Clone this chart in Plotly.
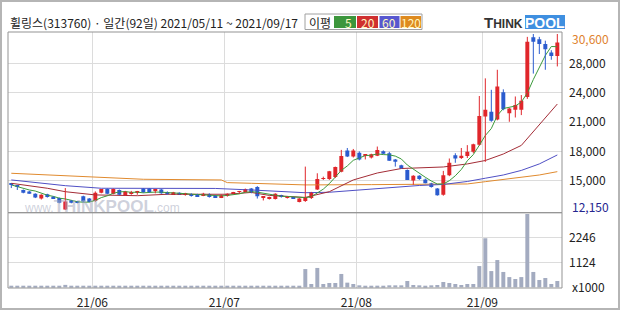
import plotly.graph_objects as go

# ---------------- data ----------------
header_title = "휠링스(313760) · 일간(92일) 2021/05/11 ~ 2021/09/17"
ma_label_title = "이평"
ma_labels = ["5", "20", "60", "120"]
month_labels = ["21/06", "21/07", "21/08", "21/09"]
month_start_idx = [14, 36, 58, 79]

opens = [14850, 14700, 14250, 14100, 13850, 13350, 13800, 13550, 13400, 12200,
         13150, 13050, 13600, 13350, 13100, 13950, 14350, 13850, 14250, 13700,
         13900, 13950, 14400, 14400, 14200, 14300, 14050, 13800, 13950, 13800,
         13800, 13750, 13650, 13800, 13650, 13500, 13650, 13850, 14050, 14050,
         14400, 14550, 13450, 13350, 13300, 13700, 13500, 13450, 13000, 13100,
         13400, 14300, 15400, 15400, 15600, 16150, 18400, 17750, 18150, 17850,
         17650, 17850, 18300, 18100, 17450, 16850, 16350, 15250, 15750, 15350,
         14950, 14400, 13750, 15800, 17900, 17700, 17800, 18250, 19000, 21950,
         22450, 21650, 24500, 22300, 22650, 22650, 24000, 30250, 30050, 29550,
         28650, 28300]
highs = [14900, 14750, 14300, 14150, 13900, 13800, 13850, 13600, 13450, 14450,
         13200, 13100, 13650, 13400, 14100, 14350, 14400, 14400, 14300, 14150,
         14150, 14150, 14450, 14450, 14350, 14350, 14100, 14050, 14000, 13950,
         13900, 13850, 13950, 13900, 13700, 13750, 13900, 14050, 14150, 14400,
         14450, 14650, 13600, 13550, 13900, 13750, 13600, 13500, 13400, 16700,
         14050, 16000, 15650, 16250, 16700, 18450, 18650, 18550, 18300, 18000,
         18050, 18800, 18400, 18250, 17500, 16900, 16400, 15800, 15800, 15450,
         15000, 14450, 16250, 17550, 18100, 18650, 18950, 19100, 24100, 25950,
         24750, 26850, 24800, 22850, 24050, 24200, 30300, 30600, 30300, 29900,
         28900, 30600]
lows = [14450, 14250, 13900, 13850, 13400, 13250, 13450, 13350, 12850, 12150,
        12850, 12850, 12950, 12950, 13000, 13900, 13800, 13800, 13700, 13650,
        13750, 13750, 13950, 13950, 13900, 13850, 13750, 13750, 13750, 13650,
        13550, 13550, 13600, 13450, 13450, 13400, 13550, 13800, 13850, 14000,
        13900, 13350, 13150, 13250, 13250, 13450, 13350, 13300, 12950, 13000,
        13300, 14250, 15300, 15300, 15500, 16100, 17700, 17650, 17350, 17450,
        17550, 17800, 18000, 17300, 16700, 16450, 15300, 14800, 15300, 14950,
        14500, 13650, 13650, 15700, 17100, 17500, 17600, 18100, 18900, 17200,
        21400, 21550, 22600, 21400, 21850, 22100, 23800, 26450, 28500, 26850,
        27900, 27200]
closes = [14800, 14650, 13950, 13850, 13450, 13750, 13500, 13350, 12900, 13050,
          12900, 12900, 13050, 13000, 13950, 14350, 13850, 14350, 13750, 14100,
          13950, 13950, 14000, 14050, 14200, 13900, 13800, 14000, 13800, 13800,
          13650, 13600, 13850, 13500, 13500, 13700, 13850, 14050, 14100, 14350,
          14000, 13600, 13450, 13500, 13850, 13550, 13500, 13350, 13350, 13450,
          14050, 15400, 15450, 16200, 16650, 17800, 17750, 18400, 17450, 17850,
          18000, 18450, 18050, 17300, 17200, 16500, 15300, 15750, 15400, 14950,
          14550, 13700, 15800, 17100, 17550, 17850, 18250, 19050, 22000, 22650,
          21500, 25100, 22700, 22800, 23150, 23600, 29800, 29800, 29550, 29000,
          28300, 29700]
# volume in thousands of shares
volumes = [50, 40, 45, 40, 50, 45, 40, 45, 60, 110,
           50, 45, 40, 40, 55, 45, 40, 40, 35, 40,
           35, 30, 40, 35, 35, 40, 35, 30, 35, 30,
           35, 40, 35, 30, 35, 30, 35, 30, 30, 35,
           40, 45, 35, 30, 35, 30, 30, 60, 60, 820,
           150, 870, 150, 195, 195, 600, 210, 150, 90, 50,
           50, 75, 60, 90, 90, 90, 285, 105, 90, 60,
           90, 105, 240, 195, 150, 105, 150, 150, 955, 2200,
           730, 1225, 690, 460, 375, 460, 3290, 690, 330, 420,
           150, 285]

ma5 = [14780, 14600, 14410, 14250, 14140, 13930, 13700, 13580, 13390, 13310,
       13140, 13020, 12960, 12980, 13160, 13450, 13640, 13900, 14050, 14080,
       14000, 14020, 13950, 14010, 14030, 14020, 13990, 13990, 13940, 13860,
       13810, 13770, 13740, 13680, 13620, 13630, 13680, 13720, 13840, 14010,
       14070, 14020, 13900, 13780, 13680, 13590, 13570, 13550, 13520, 13440,
       13540, 13920, 14340, 14910, 15550, 16300, 16770, 17360, 17610, 17850,
       17890, 18030, 17960, 17930, 17800, 17500, 16870, 16410, 16030, 15580,
       15190, 14870, 14880, 15220, 15740, 16400, 17310, 17960, 18940, 19960,
       20690, 22060, 22790, 22950, 23050, 23470, 24410, 25830, 27180, 28350,
       29290, 29270]
ma20_idx = [0, 3, 6, 9, 14, 21, 26, 36, 40, 43, 49, 53, 57, 61, 65, 72, 76, 79, 82, 85, 87, 89, 91]
ma20_val = [14950, 14700, 14430, 14070, 13730, 13650, 13800, 13800, 13990, 13680, 13470, 14070,
            15300, 16030, 16500, 16660, 16980, 17340, 18020, 18920, 20330, 21800, 23260]
ma60_idx = [0, 4, 9, 15, 23, 34, 40, 45, 49, 53, 60, 68, 72, 76, 79, 82, 85, 88, 91]
ma60_val = [15300, 15060, 14700, 14430, 14410, 14410, 14250, 14070, 13960, 14010, 14360, 14720,
            14830, 15140, 15480, 15820, 16300, 16980, 17920]
ma120_idx = [0, 9, 15, 22, 35, 36, 40, 49, 60, 70, 76, 79, 84, 88, 91]
ma120_val = [16000, 15720, 15580, 15370, 15300, 15020, 14950, 14780, 14810, 14830, 14880, 15120,
             15480, 15820, 16170]

price_tick_vals = [15225, 18300, 21375, 24450, 27525]
price_tick_text = ["15,000", "18,000", "21,000", "24,000", "28,000"]
price_max_label = "30,600"
price_min_label = "12,150"
price_max_val = 30600
price_min_val = 12150
vol_tick_vals = [1123, 2246]
vol_tick_text = ["1124", "2246"]
vol_unit_label = "x1000"

# ---------------- styling / layout helpers ----------------
W, H = 620, 310
ML, MR, MT, MB = 8, 58, 32, 22
PW, PH = W - ML - MR, H - MT - MB
SPLIT_Y = 212.7
P_PER_PX = 104.8          # price units per pixel in the price panel


def px(x):
    return (x - ML) / PW


def py(y):
    return (H - MB - y) / PH


UP = '#e0262b'
DOWN = '#2b5ccf'
MA_COLORS = ['#3c9a3c', '#a32c36', '#4f4fc4', '#e08a2e']
BOX_COLORS = ['#3c963c', '#cf3030', '#5757cf', '#de8a1e']
GRID = '#dcdcdc'
FONT = 'Noto Sans CJK KR, Noto Sans, sans-serif'

N = len(closes)
idx = list(range(N))
up = [c >= o for o, c in zip(opens, closes)]
body_colors = [UP if u else DOWN for u in up]
body_base = [min(o, c) for o, c in zip(opens, closes)]
body_h = [max(abs(c - o), 90) for o, c in zip(opens, closes)]

fig = go.Figure()

# moving averages (under the candles)
fig.add_trace(go.Scatter(x=ma120_idx, y=ma120_val, mode='lines',
                         line=dict(color=MA_COLORS[3], width=1), xaxis='x', yaxis='y'))
fig.add_trace(go.Scatter(x=ma60_idx, y=ma60_val, mode='lines',
                         line=dict(color=MA_COLORS[2], width=1), xaxis='x', yaxis='y'))
fig.add_trace(go.Scatter(x=ma20_idx, y=ma20_val, mode='lines',
                         line=dict(color=MA_COLORS[1], width=1), xaxis='x', yaxis='y'))
fig.add_trace(go.Scatter(x=idx, y=ma5, mode='lines',
                         line=dict(color=MA_COLORS[0], width=1), xaxis='x', yaxis='y'))

# wicks
for flag, col in [(True, UP), (False, DOWN)]:
    wx, wy = [], []
    for i in idx:
        if up[i] == flag:
            wx += [i, i, None]
            wy += [lows[i], highs[i], None]
    fig.add_trace(go.Scatter(x=wx, y=wy, mode='lines', line=dict(color=col, width=1),
                             xaxis='x', yaxis='y'))

# bodies
fig.add_trace(go.Bar(x=idx, y=body_h, base=body_base, width=0.66,
                     marker=dict(color=body_colors, line=dict(width=0)),
                     xaxis='x', yaxis='y'))
# volume
fig.add_trace(go.Bar(x=idx, y=volumes, width=0.66,
                     marker=dict(color='#a3abc0', line=dict(width=0)),
                     xaxis='x', yaxis='y2'))

split = py(SPLIT_Y)
price_range = [price_min_val - (SPLIT_Y - 210) * P_PER_PX,
               price_max_val + 2 * P_PER_PX]
fig.update_layout(
    width=W, height=H, margin=dict(l=ML, r=MR, t=MT, b=MB, autoexpand=False),
    paper_bgcolor='white', plot_bgcolor='white', showlegend=False,
    barmode='overlay',
    font=dict(family=FONT, size=12, color='#222'),
    xaxis=dict(range=[-0.55, 91.78], anchor='y2', automargin=False,
               tickvals=[m - 0.5 for m in month_start_idx], ticktext=month_labels,
               showgrid=True, gridcolor=GRID, gridwidth=1, zeroline=False,
               ticks='', showline=False, ticklabelstandoff=6,
               tickfont=dict(size=12, color='#222')),
    yaxis=dict(domain=[split, 1], range=price_range, automargin=False,
               side='right', tickvals=price_tick_vals, ticktext=price_tick_text,
               showgrid=True, gridcolor=GRID, zeroline=False, ticks='',
               ticklabelstandoff=6, tickfont=dict(size=12, color='#222')),
    yaxis2=dict(domain=[0, split], range=[-30, 3350], side='right', automargin=False,
                tickvals=vol_tick_vals, ticktext=vol_tick_text,
                showgrid=True, gridcolor=GRID, zeroline=False, ticks='',
                ticklabelstandoff=6, tickfont=dict(size=12, color='#222')),
)

shapes = []
# outer frame
shapes.append(dict(type='rect', xref='paper', yref='paper', x0=px(1), x1=px(619),
                   y0=py(309), y1=py(1), line=dict(color='#b5b5b5', width=2)))
# panel borders
shapes.append(dict(type='rect', xref='paper', yref='paper', x0=0, x1=1, y0=split, y1=1,
                   line=dict(color='#939393', width=1), layer='above'))
shapes.append(dict(type='rect', xref='paper', yref='paper', x0=0, x1=1, y0=0, y1=split,
                   line=dict(color='#939393', width=1), layer='above'))
# MA legend box
shapes.append(dict(type='rect', xref='paper', yref='paper', x0=px(305), x1=px(422),
                   y0=py(29.5), y1=py(14), line=dict(color='#a0a0a0', width=1),
                   fillcolor='white'))
box_x = [(334, 356), (357, 378), (379.5, 399.5), (400.5, 421)]
for (a, b), c in zip(box_x, BOX_COLORS):
    shapes.append(dict(type='rect', xref='paper', yref='paper', x0=px(a), x1=px(b),
                       y0=py(28), y1=py(16), line=dict(width=0), fillcolor=c))
# logo POOL box
shapes.append(dict(type='rect', xref='paper', yref='paper', x0=px(525), x1=px(565),
                   y0=py(29), y1=py(15), line=dict(width=0), fillcolor='#3f8fe0'))

ann = []
ann.append(dict(text=header_title, xref='paper', yref='paper', x=px(8), y=py(22.5),
                xanchor='left', yanchor='middle', showarrow=False,
                font=dict(family=FONT, size=12, color='#222')))
ann.append(dict(text=ma_label_title, xref='paper', yref='paper', x=px(319.5), y=py(22),
                xanchor='center', yanchor='middle', showarrow=False,
                font=dict(family=FONT, size=12, color='#222')))
lab_x = [(354, 'right'), (367.5, 'center'), (389, 'center'), (410.5, 'center')]
for (lx, anc), t in zip(lab_x, ma_labels):
    ann.append(dict(text=t, xref='paper', yref='paper', x=px(lx), y=py(22), xanchor=anc,
                    yanchor='middle', showarrow=False,
                    font=dict(family=FONT, size=12, color='#fff7c0')))
# logo
ann.append(dict(text="<b>T<span style='font-size:12px'>HINK</span></b>", xref='paper',
                yref='paper', x=px(525), y=py(22.5), xanchor='right', yanchor='middle',
                showarrow=False,
                font=dict(family='Liberation Sans, Arial, sans-serif', size=15, color='#333')))
ann.append(dict(text="<b>POOL</b>", xref='paper', yref='paper', x=px(545), y=py(22.5),
                xanchor='center', yanchor='middle', showarrow=False,
                font=dict(family='Liberation Sans, Arial, sans-serif', size=14, color='white')))
# watermark
ann.append(dict(text="www.<b><span style='font-size:17px'>THINKPOOL</span></b>.com",
                xref='paper', yref='paper', x=px(22), y=py(206), xanchor='left',
                yanchor='middle', showarrow=False,
                font=dict(family='Liberation Sans, Arial, sans-serif', size=12,
                          color='rgba(165,170,190,0.55)')))
# max/min price labels
ann.append(dict(text=price_max_label, xref='paper', yref='paper', x=px(570), y=py(38.3),
                xanchor='left', yanchor='middle', showarrow=False,
                font=dict(family=FONT, size=12, color='#e0822d')))
ann.append(dict(text=price_min_label, xref='paper', yref='paper', x=px(570), y=py(206.7),
                xanchor='left', yanchor='middle', showarrow=False,
                font=dict(family=FONT, size=12, color='#25258f')))
ann.append(dict(text=vol_unit_label, xref='paper', yref='paper', x=px(570), y=py(286),
                xanchor='left', yanchor='middle', showarrow=False,
                font=dict(family=FONT, size=12, color='#222')))

fig.update_layout(shapes=shapes, annotations=ann)
fig.write_html("out.html")
